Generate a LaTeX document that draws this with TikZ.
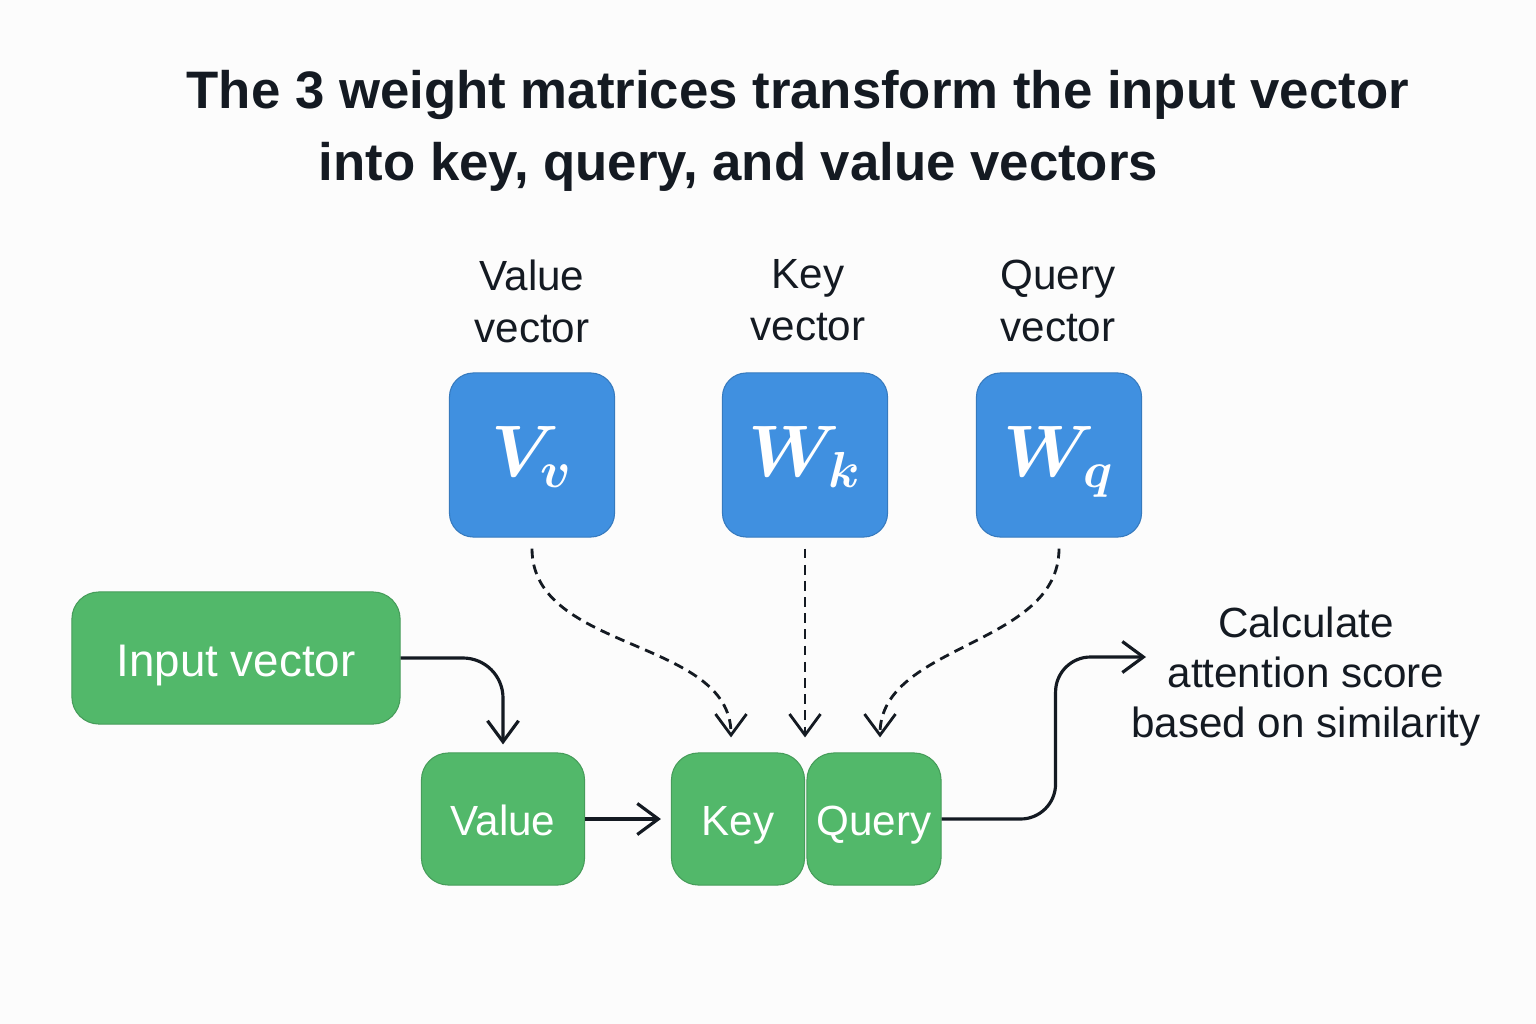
\documentclass[tikz,border=0pt]{standalone}
\usepackage{fontspec}
\setmainfont{Liberation Sans}
\usetikzlibrary{arrows.meta}
\definecolor{wblue}{RGB}{64,144,224}
\definecolor{vgreen}{RGB}{82,184,106}
\definecolor{ink}{RGB}{20,26,34}
\definecolor{paper}{RGB}{252,252,252}

\begin{document}
\begin{tikzpicture}[x=0.01cm, y=-0.01cm,
  matbox/.style={fill=wblue, draw=wblue!85!black, line width=0.3pt, rounded corners=0.24cm,
    minimum width=1.65cm, minimum height=1.64cm, inner sep=0pt, text=white,
    text height=15pt, text depth=2.5pt, font=\fontsize{22}{27}\selectfont\boldmath},
  vecbox/.style={fill=vgreen, draw=vgreen!85!black, line width=0.3pt, rounded corners=0.27cm,
    minimum height=1.32cm, inner sep=0pt, text=white,
    text height=9.1pt, text depth=0pt, font=\fontsize{12}{14}\selectfont},
  lbl/.style={text=ink, align=center, anchor=north, inner sep=0pt, font=\fontsize{12}{14.8}\selectfont},
  ttl/.style={text=ink, anchor=base west, inner sep=0pt, font=\fontsize{15}{18}\selectfont\bfseries},
  flow/.style={draw=ink, line width=0.9pt, -{Straight Barb[length=2.1mm,width=3.1mm]}},
  dflow/.style={flow, line width=0.8pt, dash pattern=on 2.8pt off 1.8pt,
    shorten <=0.11cm, shorten >=0.15cm}]
\useasboundingbox[fill=paper] (0,0) rectangle (1536,1024);

% title
\node[ttl] (ttl1) at (186,108) {The 3 weight matrices transform the input vector};
\node[ttl] (ttl2) at (318,180) {into key, query, and value vectors};

% weight matrices
\node[lbl] (lv) at (532,259) {Value\\vector};
\node[lbl] (lk) at (808,259) {Key\\vector};
\node[lbl] (lq) at (1058,259) {Query\\vector};
\node[matbox] (mv) at (532,455) {$V_v$};
\node[matbox] (mk) at (805,455) {$W_k$};
\node[matbox] (mq) at (1059,455) {$W_q$};

% vectors
\node[vecbox, minimum width=3.28cm, text height=10.8pt, font=\fontsize{13}{16}\selectfont] (inp) at (236,658) {Input vector};
\node[vecbox, minimum width=1.63cm] (val) at (503,819) {Value};
\node[vecbox, minimum width=1.33cm] (key) at (738,819) {Key};
\node[vecbox, minimum width=1.34cm] (qry) at (874,819) {Query};
\node[lbl, font=\fontsize{12}{14.2}\selectfont] (calc) at (1306,606) {Calculate\\attention score\\based on similarity};
\coordinate (res) at (1146,657);

% connectors
\draw[flow, rounded corners=0.4cm, shorten >=0.08cm] (inp.east) -| (val.north);
\draw[flow, shorten >=0.1cm] (val.east) -- (key.west);
\draw[flow, rounded corners=0.35cm] (qry.east) -- ++(114,0) |- (res);
\draw[dflow] (mv.south) to[out=-90,in=90] ([shift={(-7,0)}]key.north);
\draw[dflow] (mk.south) -- (mk.south |- key.north);
\draw[dflow] (mq.south) to[out=-90,in=90] ([shift={(6,0)}]qry.north);
\end{tikzpicture}
\end{document}
